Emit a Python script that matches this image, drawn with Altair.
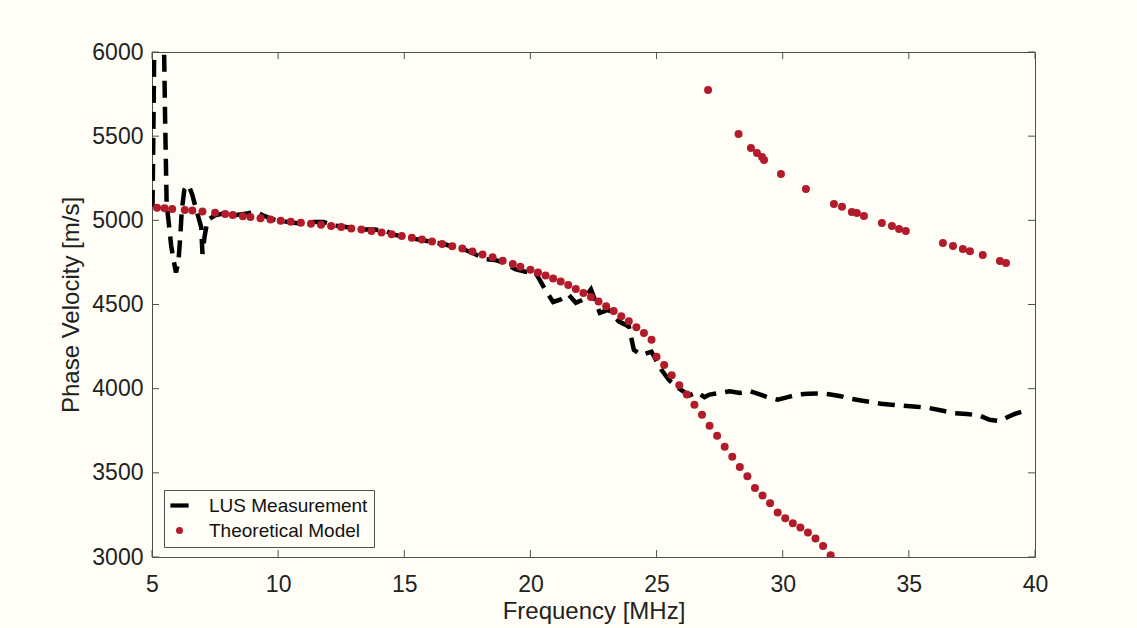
import altair as alt
import pandas as pd

# ---------------- data ----------------
meas_freq = [5.02, 5.06, 5.10, 5.46, 5.52, 5.58, 5.66, 5.76, 5.86, 5.95, 6.05, 6.12,
             6.18, 6.28, 6.45, 6.60, 6.80, 6.95, 7.00, 7.08, 7.20, 7.50, 7.90, 8.30,
             8.70, 9.10, 9.40, 9.80, 10.2, 10.6, 11.0, 11.4, 11.8, 12.2, 12.6, 13.0,
             13.4, 13.8, 14.2, 14.6, 15.0, 15.4, 15.8, 16.2, 16.6, 17.0, 17.4, 17.8,
             18.2, 18.6, 19.0, 19.4, 19.8, 20.2, 20.6, 20.9, 21.2, 21.5, 21.8, 22.1,
             22.4, 22.75, 23.1, 23.5, 23.9, 24.1, 24.4, 24.8, 25.2, 25.5, 25.9, 26.3,
             26.6, 26.9, 27.1, 27.5, 27.9, 28.3, 28.7, 29.0, 29.4, 29.8, 30.2, 30.6,
             31.0, 31.5, 31.9, 32.3, 32.7, 33.1, 33.5, 33.9, 34.3, 34.8, 35.3, 35.8,
             36.3, 36.8, 37.3, 37.8, 38.2, 38.6, 38.9, 39.2, 39.5]
meas_vel = [5080, 5600, 6200, 6200, 5600, 5100, 4990, 4850, 4760, 4690, 4760, 4900,
            5060, 5180, 5210, 5150, 5040, 4960, 4800, 4900, 5000, 5030, 5043, 5030,
            5040, 5050, 5030, 5005, 4995, 4985, 4980, 4990, 4990, 4970, 4962, 4955,
            4945, 4945, 4940, 4915, 4900, 4890, 4880, 4868, 4858, 4840, 4825, 4800,
            4770, 4765, 4745, 4710, 4695, 4690, 4585, 4515, 4530, 4560, 4510, 4530,
            4590, 4450, 4470, 4400, 4370, 4230, 4200, 4220, 4110, 4050, 4000, 3960,
            3980, 3950, 3965, 3975, 3985, 3975, 3985, 3970, 3950, 3935, 3950, 3965,
            3970, 3972, 3965, 3955, 3940, 3930, 3920, 3910, 3905, 3898, 3893, 3885,
            3870, 3855, 3850, 3840, 3815, 3808, 3830, 3850, 3865]

model_freq_low = [5.2, 5.5, 5.8, 6.3, 6.6, 7.0, 7.5, 7.9, 8.2, 8.6, 8.9, 9.3, 9.7,
                  10.1, 10.5, 10.9, 11.3, 11.7, 12.1, 12.5, 12.9, 13.3, 13.7, 14.1,
                  14.5, 14.9, 15.3, 15.7, 16.1, 16.5, 16.9, 17.3, 17.7, 18.1, 18.5,
                  18.9, 19.3, 19.6, 20.0, 20.3, 20.6, 20.9, 21.2, 21.5, 21.8, 22.1,
                  22.4, 22.7, 23.0, 23.3, 23.6, 23.9, 24.2, 24.5, 24.8, 25.0, 25.3,
                  25.6, 25.9, 26.2, 26.5, 26.8, 27.1, 27.4, 27.7, 28.0, 28.3, 28.6,
                  28.9, 29.2, 29.5, 29.8, 30.1, 30.4, 30.7, 31.0, 31.3, 31.6, 31.9]
model_vel_low = [5075, 5072, 5068, 5062, 5058, 5052, 5045, 5038, 5032, 5025, 5020,
                 5012, 5005, 4998, 4992, 4986, 4980, 4974, 4967, 4960, 4952, 4945,
                 4936, 4927, 4917, 4907, 4897, 4886, 4874, 4860, 4846, 4832, 4815,
                 4797, 4780, 4760, 4740, 4724, 4706, 4690, 4673, 4655, 4637, 4616,
                 4592, 4568, 4544, 4518, 4490, 4462, 4430, 4400, 4365, 4330, 4290,
                 4190, 4140, 4080, 4020, 3965, 3905, 3845, 3780, 3720, 3655, 3595,
                 3535, 3480, 3410, 3365, 3320, 3265, 3230, 3200, 3175, 3145, 3110,
                 3065, 3010]

model_freq_high = [27.04, 28.25, 28.74, 28.98, 29.18, 29.26, 29.93, 30.92, 32.03,
                   32.35, 32.74, 32.94, 33.22, 33.93, 34.33, 34.61, 34.88, 36.35,
                   36.75, 37.14, 37.42, 37.93, 38.61, 38.85]
model_vel_high = [5774, 5513, 5430, 5400, 5376, 5358, 5275, 5186, 5097, 5080, 5050,
                  5043, 5026, 4984, 4966, 4948, 4936, 4865, 4847, 4829, 4817, 4794,
                  4758, 4746]

series_names = ["LUS Measurement", "Theoretical Model"]
x_ticks = [5, 10, 15, 20, 25, 30, 35, 40]
y_ticks = [3000, 3500, 4000, 4500, 5000, 5500, 6000]

# ---------------- styling ----------------
W, H = 883, 505
BG = "#fffef6"
FRAME = "#505050"
RED = "#b31b2b"
TXT = "#222222"
FONT = "Liberation Sans"
DASH_PATH = "M-2.6,-0.6H2.6V0.6H-2.6Z"
TICK = 7

meas = pd.DataFrame({"f": meas_freq, "v": meas_vel, "i": list(range(len(meas_freq)))})
model = pd.DataFrame({
    "f": model_freq_low + model_freq_high,
    "v": model_vel_low + model_vel_high,
    "s": [series_names[1]] * (len(model_freq_low) + len(model_freq_high)),
})
xt = pd.DataFrame({"t": x_ticks})
yt = pd.DataFrame({"t": y_ticks})

xs = alt.Scale(domain=[5, 40], nice=False, zero=False)
ys = alt.Scale(domain=[3000, 6000], nice=False, zero=False)
x_axis = alt.Axis(values=x_ticks, title="Frequency [MHz]", labelPadding=16, titlePadding=3,
                  format="d", labelFlush=False, labelOverlap=False)
y_axis = alt.Axis(values=y_ticks, title="Phase Velocity [m/s]", labelPadding=9, titlePadding=8,
                  format="d", labelFlush=False, labelOverlap=False)

line = alt.Chart(meas).mark_line(
    clip=True, color="black", strokeWidth=4.5, strokeDash=[17, 9], strokeCap="butt"
).encode(
    x=alt.X("f:Q", scale=xs, axis=x_axis),
    y=alt.Y("v:Q", scale=ys, axis=y_axis),
    order="i:Q",
)

legend = alt.Legend(
    title=None, orient="none", legendX=12, legendY=438, direction="vertical",
    padding=6, strokeColor=FRAME, fillColor=BG, labelFont=FONT, labelFontSize=19,
    labelColor="#111111", symbolSize=49, rowPadding=5, labelOffset=20,
    symbolOpacity=1,
)

pts = alt.Chart(model).mark_point(filled=True, opacity=1, size=64, clip=True).encode(
    x=alt.X("f:Q", scale=xs, axis=x_axis),
    y=alt.Y("v:Q", scale=ys, axis=y_axis),
    color=alt.Color("s:N", scale=alt.Scale(domain=series_names, range=["#000000", RED]),
                    legend=legend),
    shape=alt.Shape("s:N", scale=alt.Scale(domain=series_names, range=[DASH_PATH, "circle"]),
                    legend=legend),
)

bottom_ticks = alt.Chart(xt).mark_rule(color=FRAME, strokeWidth=1).encode(
    x=alt.X("t:Q", scale=xs, axis=x_axis), y=alt.value(H), y2=alt.value(H - TICK))
top_ticks = alt.Chart(xt).mark_rule(color=FRAME, strokeWidth=1).encode(
    x=alt.X("t:Q", scale=xs, axis=x_axis), y=alt.value(0), y2=alt.value(TICK))
left_ticks = alt.Chart(yt).mark_rule(color=FRAME, strokeWidth=1).encode(
    y=alt.Y("t:Q", scale=ys, axis=y_axis), x=alt.value(0), x2=alt.value(TICK))
right_ticks = alt.Chart(yt).mark_rule(color=FRAME, strokeWidth=1).encode(
    y=alt.Y("t:Q", scale=ys, axis=y_axis), x=alt.value(W), x2=alt.value(W - TICK))

chart = alt.layer(
    line, pts, bottom_ticks, top_ticks, left_ticks, right_ticks
).properties(
    width=W, height=H,
    padding={"left": 152, "top": 52, "right": 102, "bottom": 71},
    autosize=alt.AutoSizeParams(type="none"),
    background=BG,
).configure_view(
    stroke=FRAME, strokeWidth=1
).configure_axis(
    labelFont=FONT, titleFont=FONT, labelFontSize=23, titleFontSize=24,
    labelColor=TXT, titleColor=TXT, titleFontWeight="normal",
    grid=False, ticks=False, domain=False,
)

chart.save("out.html", embed_options={"renderer": "svg", "actions": False})
